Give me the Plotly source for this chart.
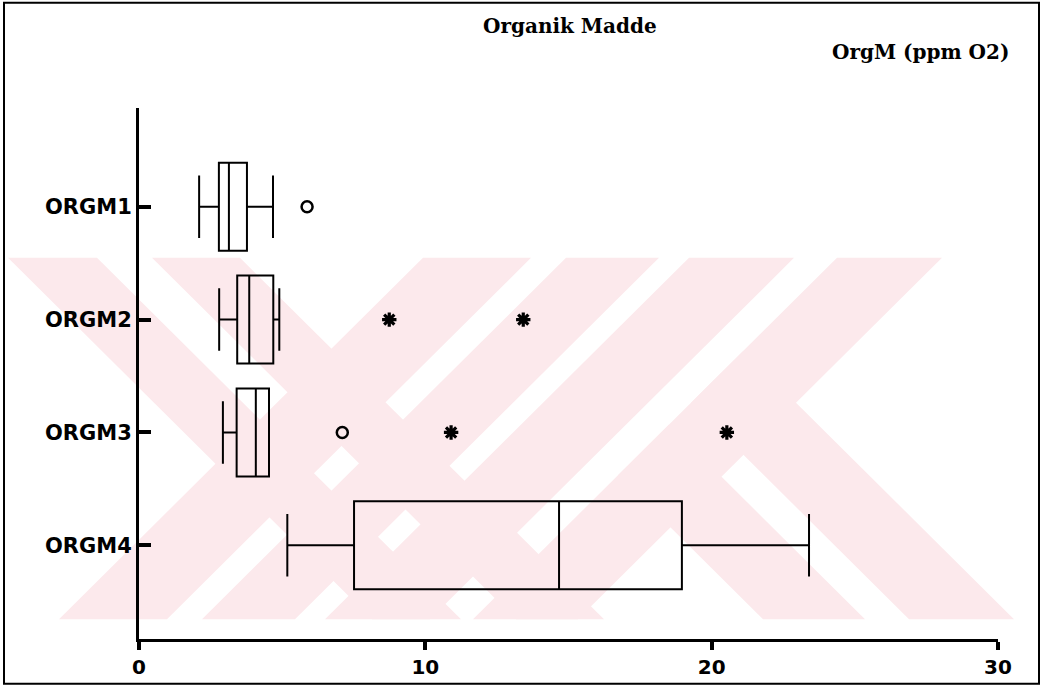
import plotly.graph_objects as go

# ---------------- data ----------------
categories = ["ORGM1", "ORGM2", "ORGM3", "ORGM4"]
q1 = [2.79, 3.43, 3.41, 7.51]
median = [3.14, 3.85, 4.08, 14.67]
q3 = [3.77, 4.69, 4.54, 18.96]
lower_whisker = [2.10, 2.80, 2.93, 5.18]
upper_whisker = [4.68, 4.90, 4.54, 23.40]

circle_cat = ["ORGM1", "ORGM3"]
circle_val = [5.87, 7.10]
star_cat = ["ORGM2", "ORGM2", "ORGM3", "ORGM3"]
star_val = [8.74, 13.42, 10.90, 20.53]

x_ticks = [0, 10, 20, 30]
title_text = "Organik Madde"
var_label = "OrgM (ppm O2)"

# ---------------- layout geometry (pixels) ----------------
W, H = 1045, 691
PL, PR, PT, PB = 139, 998, 108, 643


def px(x):
    return (x - PL) / (PR - PL)


def py(y):
    return (PB - y) / (PB - PT)


fig = go.Figure()

fig.add_trace(go.Box(
    y=categories, q1=q1, median=median, q3=q3,
    lowerfence=lower_whisker, upperfence=upper_whisker,
    orientation="h", boxpoints=False,
    line=dict(color="black", width=2),
    fillcolor="rgba(0,0,0,0)",
    width=0.78, whiskerwidth=0.71,
    showlegend=False, hoverinfo="x",
))

fig.add_trace(go.Scatter(
    x=circle_val, y=circle_cat, mode="markers",
    marker=dict(symbol="circle-open", size=11, color="black",
                line=dict(width=2.5, color="black")),
    showlegend=False,
))
fig.add_trace(go.Scatter(
    x=star_val, y=star_cat, mode="markers",
    marker=dict(symbol="asterisk-open", size=12, color="black",
                line=dict(width=3.2, color="black")),
    showlegend=False,
))

# ---------------- watermark (decorative background stripes) ----------------
PINK = "rgb(252,233,236)"
YT, YB = 259, 623


def path_from(pts):
    pts = [(min(max(x, 5), 1038), y) for x, y in pts]
    s = "M " + " L ".join(f"{px(x):.5f},{py(y):.5f}" for x, y in pts) + " Z"
    return s


def back_band(v1, v2):
    return [(v1 + YT, YT), (v2 + YT, YT), (v2 + YB, YB), (v1 + YB, YB)]


def fwd_band(u1, u2):
    return [(u1 - YT, YT), (u2 - YT, YT), (u2 - YB, YB), (u1 - YB, YB)]


def back_band_from(v1, v2, u0):
    return [((u0 + v1) / 2, (u0 - v1) / 2), ((u0 + v2) / 2, (u0 - v2) / 2),
            (v2 + YB, YB), (v1 + YB, YB)]


polys = [
    back_band(-251, -162), back_band(-107, -19),
    fwd_band(682, 790), fwd_band(825, 918),
    fwd_band(948, 1053), fwd_band(1096, 1201),
    back_band_from(140, 242, 1096), back_band_from(286, 391, 1096),
]
shapes = []
for p in polys:
    shapes.append(dict(type="path", xref="paper", yref="paper", path=path_from(p),
                       fillcolor=PINK, line=dict(width=0), layer="below"))

# outer frame
shapes.append(dict(type="rect", xref="paper", yref="paper",
                   x0=px(4), x1=px(1039), y0=py(688), y1=py(2),
                   line=dict(color="black", width=2), fillcolor="rgba(0,0,0,0)",
                   layer="above"))

annotations = [
    dict(text=f"<b>{title_text}</b>", xref="paper", yref="paper",
         x=px(570), y=py(25), xanchor="center", yanchor="middle", showarrow=False,
         font=dict(family="DejaVu Serif", size=20, color="black")),
    dict(text=f"<b>{var_label}</b>", xref="paper", yref="paper",
         x=px(920), y=py(52), xanchor="center", yanchor="middle", showarrow=False,
         font=dict(family="DejaVu Serif", size=20, color="black")),
]

fig.update_layout(
    width=W, height=H,
    margin=dict(l=PL, r=W - PR, t=PT, b=H - PB, pad=0),
    paper_bgcolor="white", plot_bgcolor="rgba(0,0,0,0)",
    shapes=shapes, annotations=annotations,
    showlegend=False,
)
fig.update_xaxes(
    range=[0, 30], tickvals=x_ticks, ticks="outside", ticklen=8, tickwidth=4,
    tickcolor="black", showline=True, linewidth=2.5, linecolor="black",
    showgrid=False, zeroline=False,
    tickfont=dict(family="DejaVu Sans", size=20, color="black", weight="bold"),
)
fig.update_yaxes(
    type="category", categoryorder="array", categoryarray=categories,
    range=[3.83, -0.875], ticks="inside", ticklen=12, tickwidth=4,
    tickcolor="black", showline=True, linewidth=3, linecolor="black",
    showgrid=False, zeroline=False,
    tickfont=dict(family="DejaVu Sans", size=21, color="black", weight="bold"),
)

fig.write_html("out.html")
